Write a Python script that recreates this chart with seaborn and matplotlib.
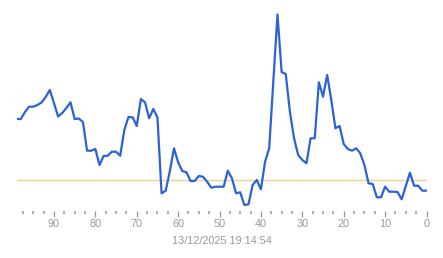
import matplotlib
matplotlib.use("Agg")
import matplotlib.pyplot as plt
import seaborn as sns
import pandas as pd
import numpy as np
from matplotlib.ticker import MultipleLocator

# x positions run from 99 (oldest) to 0 (latest)
ages = list(range(99, -1, -1))
values_px = [
    119, 119, 112, 106.7, 106.7, 105, 102.5, 97, 90, 103,      # 99..90
    116.5, 113, 108, 102.3, 119, 118.5, 122, 150.7, 150.7, 149,  # 89..80
    165, 156, 155.7, 151.7, 151.7, 155.7, 130, 117, 117.3, 126,  # 79..70
    99, 102.3, 118.3, 109, 117.3, 193.3, 190.7, 171, 148.3, 162.3,  # 69..60
    171, 172.3, 181, 181, 176, 176.7, 181.7, 187.7, 186.7, 186.7,  # 59..50
    186.7, 170.7, 178.3, 193.3, 192.3, 205, 204.3, 185, 180, 189.3,  # 49..40
    161.7, 148.3, 81, 14.5, 72, 74, 111.7, 138.3, 155, 160,  # 39..30
    163.3, 138.3, 138.3, 82.3, 96.7, 75, 100, 128.3, 126, 144,  # 29..20
    149, 150.7, 148.3, 153.3, 165, 183.3, 184, 197.3, 197.3, 186.7,  # 19..10
    191.7, 191.7, 192, 199.3, 186, 172.7, 185.7, 185.7, 190.7, 190.7,  # 9..0
]
values = [200 - v for v in values_px]
threshold = 20
date_label = "13/12/2025 19:14:54"
major_ticks = [90, 80, 70, 60, 50, 40, 30, 20, 10, 0]

df = pd.DataFrame({"age": ages, "value": values})

sns.set_style("white")
plt.rcParams["font.family"] = ["Liberation Sans", "DejaVu Sans"]

fig = plt.figure(figsize=(4.43, 2.58), dpi=100)
ax = fig.add_axes([16.7 / 443, (258 - 210.5) / 258, (426.5 - 16.7) / 443, 205.5 / 258])

ax.axhline(threshold, color="#e8d48c", lw=1.0, zorder=1)
sns.lineplot(data=df, x="age", y="value", ax=ax, color="#2b62d8", lw=1.6, zorder=2)

ax.set_xlim(99, 0)
ax.set_ylim(-10.5, 195)
for s in ax.spines.values():
    s.set_visible(False)
ax.set_yticks([])
ax.set_ylabel("")
ax.set_xticks(major_ticks)
ax.set_xticklabels([str(t) for t in major_ticks])
ax.xaxis.set_minor_locator(MultipleLocator(2.5))
ax.tick_params(axis="x", which="major", direction="out", length=4.3, width=0.9,
               color="#999999", labelcolor="#999999", labelsize=7.8, pad=2.0, bottom=True)
ax.tick_params(axis="x", which="minor", direction="out", length=2.0, width=1.1,
               color="#999999", bottom=True)
ax.set_xlabel(date_label, color="#999999", fontsize=7.8, labelpad=5)

fig.savefig("out.png", dpi=100)
